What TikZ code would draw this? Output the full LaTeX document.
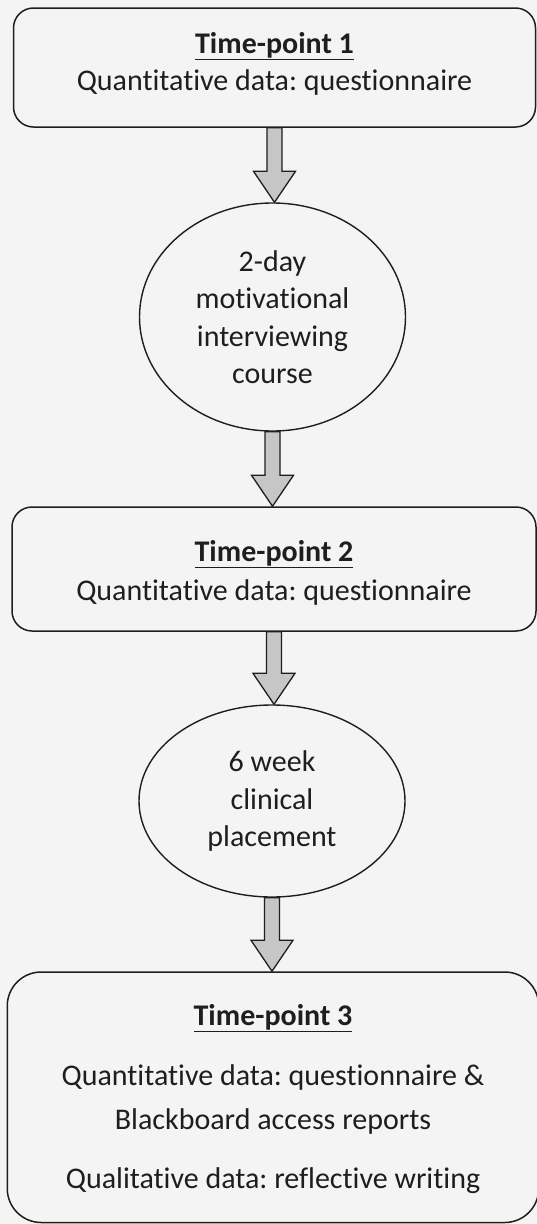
\documentclass[tikz,border=0pt]{standalone}
\usepackage{fontspec}
\setmainfont{Carlito}[Ligatures={NoCommon}]
\usetikzlibrary{shapes.geometric,calc}
\definecolor{ink}{HTML}{1E1E1E}
\definecolor{paper}{HTML}{F4F4F4}
\definecolor{arrowfill}{HTML}{C6C6C6}
\frenchspacing
\tikzset{
  stage/.style={draw=ink, line width=1.5pt, rounded corners=20pt, inner sep=0pt},
  activity/.style={draw=ink, line width=1.4pt, ellipse, inner sep=0pt, align=center,
    font=\fontsize{30}{37.5}\selectfont, text=ink},
  txtline/.style={anchor=base, inner sep=0pt, text=ink, font=\fontsize{30}{36}\selectfont},
  heading/.style={txtline, font=\fontsize{30}{36}\selectfont\bfseries},
  flow/.style={draw=ink, line width=1.3pt, fill=arrowfill, line join=miter},
}
% block arrow from the bottom of one shape to the top of the next
\newcommand\flowarrow[2]{%
  \draw[flow] let \p1=(#1.south), \p2=(#2.north) in
    (\x1-7.5pt,\y1) -- (\x1+7.5pt,\y1) -- (\x1+7.5pt,\y2+31pt) -- (\x1+21pt,\y2+31pt)
    -- (\x1,\y2) -- (\x1-21pt,\y2+31pt) -- (\x1-7.5pt,\y2+31pt) -- cycle;}
\begin{document}
\begin{tikzpicture}[x=1pt,y=-1pt]
  \fill[paper] (0,0) rectangle (537,1224);
  \useasboundingbox (0,0) rectangle (537,1224);

  % first measurement point
  \node[stage, minimum width=522pt, minimum height=119pt] (tp1) at (274.5,67.5) {};
  \node[heading] (tp1head) at (274.5,53) {\underline{Time-point 1}};
  \node[txtline] (tp1quant) at (274.5,90) {Quantitative data: questionnaire};

  % training course
  \node[activity, minimum width=266pt, minimum height=228pt] (course) at (272.5,317)
    {2-day\\motivational\\interviewing\\course};

  % second measurement point
  \node[stage, minimum width=524pt, minimum height=124pt] (tp2) at (274,569) {};
  \node[heading] (tp2head) at (274,561) {\underline{Time-point 2}};
  \node[txtline] (tp2quant) at (274,600) {Quantitative data: questionnaire};

  % placement
  \node[activity, minimum width=266pt, minimum height=192pt] (placement) at (272,801)
    {6 week\\clinical\\placement};

  % third measurement point
  \node[stage, rounded corners=34pt, minimum width=531.5pt, minimum height=250.5pt] (tp3) at (273,1097.25) {};
  \node[heading] (tp3head) at (273,1025) {\underline{Time-point 3}};
  \node[txtline] (tp3quant) at (273,1085) {Quantitative data: questionnaire \&};
  \node[txtline] (tp3board) at (273,1129.5) {Blackboard access reports};
  \node[txtline] (tp3qual) at (273,1188) {Qualitative data: reflective writing};

  % flow between stages
  \flowarrow{tp1}{course}
  \flowarrow{course}{tp2}
  \flowarrow{tp2}{placement}
  \flowarrow{placement}{tp3}
\end{tikzpicture}
\end{document}
